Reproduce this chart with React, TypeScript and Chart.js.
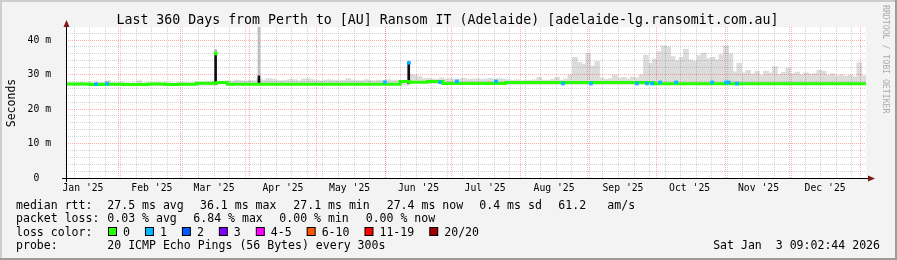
import { useEffect, useRef } from "react";
import { Chart, registerables } from "chart.js";

Chart.register(...registerables);

const FONT = "'DejaVu Sans Mono', 'Liberation Mono', monospace";

const TITLE = "Last 360 Days from Perth to [AU] Ransom IT (Adelaide) [adelaide-lg.ransomit.com.au]";
const Y_AXIS_TITLE = "Seconds";
const WATERMARK = "RRDTOOL / TOBI OETIKER";

// time axis: days since 2025-01-01 00:00
const START_DAY = 7.376;
const END_DAY = 367.376;
const SMOKE_BIN_DAYS = 2;

const Y_MAX = 43.77;
const Y_TICKS = [0, 10, 20, 30, 40];
const Y_MINOR_STEP = 2;

const MONTH_LABELS = ["Jan '25", "Feb '25", "Mar '25", "Apr '25", "May '25", "Jun '25", "Jul '25", "Aug '25", "Sep '25", "Oct '25", "Nov '25", "Dec '25"];
const MONTH_LABEL_DAYS = [15, 46, 74, 105, 135, 166, 196, 227, 258, 288, 319, 349];
const MONTH_START_DAYS = [31, 59, 90, 120, 151, 181, 212, 243, 273, 304, 334, 365];
const WEEK_START_DAYS = [11, 18, 25, 32, 39, 46, 53, 60, 67, 74, 81, 88, 95, 102, 109, 116, 123, 130, 137, 144, 151, 158, 165, 172, 179, 186, 193, 200, 207, 214, 221, 228, 235, 242, 249, 256, 263, 270, 277, 284, 291, 298, 305, 312, 319, 326, 333, 340, 347, 354, 361];

// median rtt (ms), step changes
const MEDIAN_STEP_DAYS = [7.376, 18, 24, 33, 44, 52, 58, 66, 75.2, 80, 157.7, 161.9, 170, 177, 205, 272, 307];
const MEDIAN_STEP_VALUES = [27.15, 27.25, 27.1, 27.2, 27.1, 27.25, 27.1, 27.2, 27.45, 27.7, 27.2, 28.0, 27.75, 28.0, 27.4, 27.7, 27.35];

// smoke top (ms), one value per 2-day bin
const SMOKE_MAX = [
  27.6, 27.5, 27.6, 27.7, 27.5, 27.6, 27.5, 27.7, 27.6, 28.2,
  27.6, 27.5, 27.7, 27.6, 27.5, 27.6, 28.2, 27.6, 27.5, 27.6,
  27.7, 27.5, 27.6, 27.6, 27.5, 27.7, 27.6, 27.5, 27.6, 27.7,
  27.5, 27.6, 27.6, 28.0, 28.0, 28.1, 28.2, 28.1, 28.3, 28.2,
  28.1, 28.3, 28.2, 28.7, 28.4, 28.8, 28.7, 28.3, 28.2, 28.3,
  28.6, 28.5, 28.2, 28.7, 28.8, 28.5, 28.3, 28.2, 28.4, 28.5,
  28.3, 28.2, 28.3, 28.8, 28.4, 28.3, 28.2, 28.5, 28.3, 28.2,
  28.4, 28.3, 28.5, 28.2, 28.3, 27.8, 27.9, 30.0, 29.8, 29.4,
  28.8, 28.9, 28.7, 28.6, 29.0, 28.7, 28.8, 28.6, 28.7, 28.9,
  28.6, 28.7, 28.8, 28.6, 28.7, 28.9, 28.6, 28.8, 28.7, 28.5,
  28.3, 28.5, 28.2, 28.4, 28.3, 28.5, 29.2, 28.4, 28.3, 28.6,
  29.2, 28.4, 28.7, 29.9, 35.0, 33.5, 33.0, 36.1, 32.5, 33.8,
  29.0, 28.6, 28.8, 29.8, 28.9, 29.2, 28.7, 29.3, 29.0, 29.9,
  35.6, 33.2, 34.5, 36.6, 38.3, 38.0, 35.2, 34.0, 35.0, 37.3,
  34.2, 33.8, 35.5, 36.2, 34.6, 35.0, 34.3, 35.8, 38.3, 36.0,
  30.8, 33.3, 30.5, 31.2, 30.1, 30.9, 29.8, 31.0, 30.4, 32.3,
  30.0, 30.6, 31.9, 30.2, 30.7, 29.9, 30.5, 30.1, 30.3, 31.2,
  31.0, 29.8, 30.2, 29.6, 29.9, 29.5, 29.8, 29.4, 33.4, 29.6,
];

// dense (dark) smoke spikes
const DARK_SPIKE_DAYS = [74.7, 94.2, 161.6];
const DARK_SPIKE_LOW = [27.2, 27.6, 27.3];
const DARK_SPIKE_HIGH = [36.1, 29.6, 33.4];

// light smoke spikes
const LIGHT_SPIKE_DAYS = [74.7, 94.2];
const LIGHT_SPIKE_LOW = [36.1, 29.6];
const LIGHT_SPIKE_HIGH = [37.3, 43.77];

// median samples with packet loss colouring
const LOSS_DOT_DAYS = [20.9, 25.8, 74.7, 150.9, 161.7, 175.7, 183.3, 200.9, 231.0, 243.6, 264.3, 268.8, 271.1, 274.7, 281.9, 298.1, 304.4, 305.6, 309.3];
const LOSS_DOT_RTT = [27.2, 27.3, 36.1, 27.75, 33.4, 27.75, 28.0, 28.0, 27.4, 27.4, 27.4, 27.4, 27.4, 27.7, 27.7, 27.7, 27.7, 27.7, 27.35];
const LOSS_DOT_LEVEL = [1, 1, 0, 1, 1, 1, 1, 1, 1, 1, 1, 1, 1, 1, 1, 1, 1, 1, 1];

const LOSS_COLORS = ["#26ff00", "#00b8ff", "#0059ff", "#7e00ff", "#ff00ff", "#ff5500", "#ff0000", "#a10000"];
const LOSS_LABELS = ["0", "1", "2", "3", "4-5", "6-10", "11-19", "20/20"];

const RTT_ITEMS = ["27.5 ms avg", "36.1 ms max", "27.1 ms min", "27.4 ms now", "0.4 ms sd", "61.2", "am/s"];
const LOSS_ITEMS = ["0.03 % avg", "6.84 % max", "0.00 % min", "0.00 % now"];
const PROBE_TEXT = "20 ICMP Echo Pings (56 Bytes) every 300s";
const DATE_TEXT = "Sat Jan  3 09:02:44 2026";

function medianAt(day: number): number {
  let v = MEDIAN_STEP_VALUES[0];
  for (let i = 0; i < MEDIAN_STEP_DAYS.length; i++) {
    if (MEDIAN_STEP_DAYS[i] <= day) v = MEDIAN_STEP_VALUES[i];
  }
  return v;
}

const GRID_MINOR = "rgba(0,0,0,0.17)";
const GRID_MAJOR = "rgba(255,0,0,0.32)";

function drawGrid(chart: any) {
  const { ctx, chartArea: a, scales } = chart;
  const xs = scales.x;
  const ys = scales.y;
  ctx.save();
  ctx.lineWidth = 1;
  ctx.setLineDash([1, 1]);
  const vline = (d: number) => {
    const px = Math.floor(xs.getPixelForValue(d)) + 0.5;
    ctx.beginPath();
    ctx.moveTo(px, a.top);
    ctx.lineTo(px, a.bottom);
    ctx.stroke();
  };
  const hline = (v: number) => {
    const py = Math.floor(ys.getPixelForValue(v)) + 0.5;
    ctx.beginPath();
    ctx.moveTo(a.left, py);
    ctx.lineTo(a.right, py);
    ctx.stroke();
  };
  ctx.strokeStyle = GRID_MINOR;
  for (let v = Y_MINOR_STEP; v < Y_MAX; v += Y_MINOR_STEP) {
    if (v % 10 !== 0) hline(v);
  }
  WEEK_START_DAYS.forEach(vline);
  ctx.strokeStyle = GRID_MAJOR;
  Y_TICKS.filter((v) => v > 0).forEach(hline);
  MONTH_START_DAYS.forEach(vline);
  ctx.restore();
}

const rrdPlugin = {
  id: "rrdLook",
  beforeDraw(chart: any) {
    const { ctx, width, height, chartArea: a } = chart;
    ctx.save();
    ctx.fillStyle = "#f3f3f3";
    ctx.fillRect(0, 0, width, height);
    ctx.fillStyle = "#cdcdcd";
    ctx.fillRect(0, 0, width, 2);
    ctx.fillRect(0, 0, 2, height);
    ctx.fillStyle = "#9c9c9c";
    ctx.fillRect(0, height - 2, width, 2);
    ctx.fillRect(width - 2, 0, 2, height);
    ctx.fillStyle = "#ffffff";
    ctx.fillRect(a.left, a.top, a.right - a.left, a.bottom - a.top);
    ctx.restore();
  },
  afterDatasetDraw(chart: any, args: any) {
    if (args.index === 0) drawGrid(chart);
  },
  afterDatasetsDraw(chart: any) {
    const { ctx, chartArea: a } = chart;
    ctx.save();
    ctx.strokeStyle = "#000";
    ctx.lineWidth = 1;
    ctx.beginPath();
    ctx.moveTo(a.left - 4, a.bottom + 0.5);
    ctx.lineTo(a.right + 3, a.bottom + 0.5);
    ctx.moveTo(a.left + 0.5, a.bottom + 4);
    ctx.lineTo(a.left + 0.5, a.top - 1);
    ctx.stroke();
    ctx.fillStyle = "#801818";
    ctx.beginPath();
    ctx.moveTo(a.right + 2, a.bottom - 2.5);
    ctx.lineTo(a.right + 9, a.bottom + 0.5);
    ctx.lineTo(a.right + 2, a.bottom + 3.5);
    ctx.closePath();
    ctx.fill();
    ctx.beginPath();
    ctx.moveTo(a.left - 2.5, a.top);
    ctx.lineTo(a.left + 0.5, a.top - 7);
    ctx.lineTo(a.left + 3.5, a.top);
    ctx.closePath();
    ctx.fill();
    ctx.restore();
  },
  afterDraw(chart: any) {
    const { ctx } = chart;
    ctx.save();
    ctx.fillStyle = "#000";
    ctx.textBaseline = "alphabetic";

    ctx.font = `13.25px ${FONT}`;
    ctx.textAlign = "center";
    ctx.fillText(TITLE, 447.5, 24);

    ctx.save();
    ctx.font = `11.5px ${FONT}`;
    ctx.translate(15, 103);
    ctx.rotate(-Math.PI / 2);
    ctx.textAlign = "center";
    ctx.fillText(Y_AXIS_TITLE, 0, 0);
    ctx.restore();

    ctx.save();
    ctx.font = `8.2px ${FONT}`;
    ctx.fillStyle = "#aaaaaa";
    ctx.translate(882.5, 5);
    ctx.rotate(Math.PI / 2);
    ctx.textAlign = "left";
    ctx.fillText(WATERMARK, 0, 0);
    ctx.restore();

    ctx.font = `11.55px ${FONT}`;
    ctx.textAlign = "left";
    const rows = [208.5, 222, 235.5, 249];
    const rttX = [107.3, 200, 293.3, 386.7, 479.3, 558.3, 607.3];
    const lossX = [107.3, 193.3, 279.3, 365.7];
    ctx.fillText("median rtt:", 16, rows[0]);
    RTT_ITEMS.forEach((t, i) => ctx.fillText(t, rttX[i], rows[0]));
    ctx.fillText("packet loss:", 16, rows[1]);
    LOSS_ITEMS.forEach((t, i) => ctx.fillText(t, lossX[i], rows[1]));
    ctx.fillText("loss color:", 16, rows[2]);
    let bx = 108;
    LOSS_COLORS.forEach((c, i) => {
      ctx.fillStyle = "#000";
      ctx.fillRect(bx, rows[2] - 8.5, 9, 9);
      ctx.fillStyle = c;
      ctx.fillRect(bx + 1, rows[2] - 7.5, 7, 7);
      ctx.fillStyle = "#000";
      const lx = bx + 15;
      ctx.fillText(LOSS_LABELS[i], lx, rows[2]);
      bx = lx + ctx.measureText(LOSS_LABELS[i]).width + 15;
    });
    ctx.fillText("probe:", 16, rows[3]);
    ctx.fillText(PROBE_TEXT, 107.3, rows[3]);
    ctx.textAlign = "right";
    ctx.fillText(DATE_TEXT, 880, rows[3]);
    ctx.restore();
  },
};

export default function App() {
  const ref = useRef<HTMLCanvasElement>(null);

  useEffect(() => {
    const canvas = ref.current;
    if (!canvas) return;

    const smokeData = SMOKE_MAX.map((hi, i) => {
      const x = START_DAY + SMOKE_BIN_DAYS * (i + 0.5);
      return { x, y: [medianAt(x) - 0.3, hi] };
    });
    const lightSpikes = LIGHT_SPIKE_DAYS.map((d, i) => ({ x: d, y: [LIGHT_SPIKE_LOW[i], LIGHT_SPIKE_HIGH[i]] }));
    const darkSpikes = DARK_SPIKE_DAYS.map((d, i) => ({ x: d, y: [DARK_SPIKE_LOW[i], DARK_SPIKE_HIGH[i]] }));
    const medianLine = MEDIAN_STEP_DAYS.map((d, i) => ({ x: d, y: MEDIAN_STEP_VALUES[i] }));
    medianLine.push({ x: END_DAY, y: MEDIAN_STEP_VALUES[MEDIAN_STEP_VALUES.length - 1] });
    const lossDots = LOSS_DOT_DAYS.map((d, i) => ({ x: d, y: [LOSS_DOT_RTT[i] - 0.43, LOSS_DOT_RTT[i] + 0.43] }));

    const tickFont = { family: FONT, size: 9.75 };

    const chart = new Chart(canvas, {
      type: "bar",
      data: {
        datasets: [
          {
            type: "bar",
            label: "smoke",
            data: smokeData as any,
            backgroundColor: "#dcdcdc",
            barThickness: 5,
            grouped: false,
            order: 6,
          } as any,
          {
            type: "bar",
            label: "smoke spikes",
            data: lightSpikes as any,
            backgroundColor: "#bdbdbd",
            barThickness: 2,
            grouped: false,
            order: 5,
          } as any,
          {
            type: "bar",
            label: "dense smoke",
            data: darkSpikes as any,
            backgroundColor: "#111111",
            barThickness: 2,
            grouped: false,
            order: 4,
          } as any,
          {
            type: "line",
            label: "median rtt",
            data: medianLine as any,
            borderColor: LOSS_COLORS[0],
            borderWidth: 3,
            pointRadius: 0,
            stepped: "after",
            order: 3,
          } as any,
          {
            type: "bar",
            label: "loss",
            data: lossDots as any,
            backgroundColor: LOSS_DOT_LEVEL.map((l) => LOSS_COLORS[l]),
            barThickness: 3,
            grouped: false,
            order: 2,
          } as any,
        ],
      },
      options: {
        animation: false,
        responsive: false,
        maintainAspectRatio: false,
        events: [],
        layout: { padding: { left: 0, right: 31, top: 27, bottom: 0 } },
        plugins: {
          legend: { display: false },
          tooltip: { enabled: false },
          title: { display: false },
        },
        scales: {
          x: {
            type: "linear",
            min: START_DAY,
            max: END_DAY,
            offset: false,
            grid: { display: false, offset: false },
            border: { display: false },
            afterBuildTicks: (s: any) => {
              s.ticks = MONTH_LABEL_DAYS.map((v) => ({ value: v }));
            },
            afterFit: (s: any) => {
              s.height = 82;
            },
            ticks: {
              autoSkip: false,
              maxRotation: 0,
              minRotation: 0,
              padding: -3,
              color: "#000",
              font: tickFont,
              callback: (_v: any, i: number) => MONTH_LABELS[i],
            },
          },
          y: {
            type: "linear",
            min: 0,
            max: Y_MAX,
            grid: { display: false },
            border: { display: false },
            afterBuildTicks: (s: any) => {
              s.ticks = Y_TICKS.map((v) => ({ value: v }));
            },
            afterFit: (s: any) => {
              s.width = 66;
            },
            ticks: {
              padding: 7,
              color: "#000",
              font: tickFont,
              callback: (v: any) => (v === 0 ? "0  " : `${v} m`),
            },
          },
        },
      } as any,
      plugins: [rrdPlugin],
    });

    return () => chart.destroy();
  }, []);

  return (
    <div style={{ position: "fixed", left: 0, top: 0, width: 897, height: 260 }}>
      <canvas ref={ref} width={897} height={260} style={{ display: "block", width: 897, height: 260 }} />
    </div>
  );
}
